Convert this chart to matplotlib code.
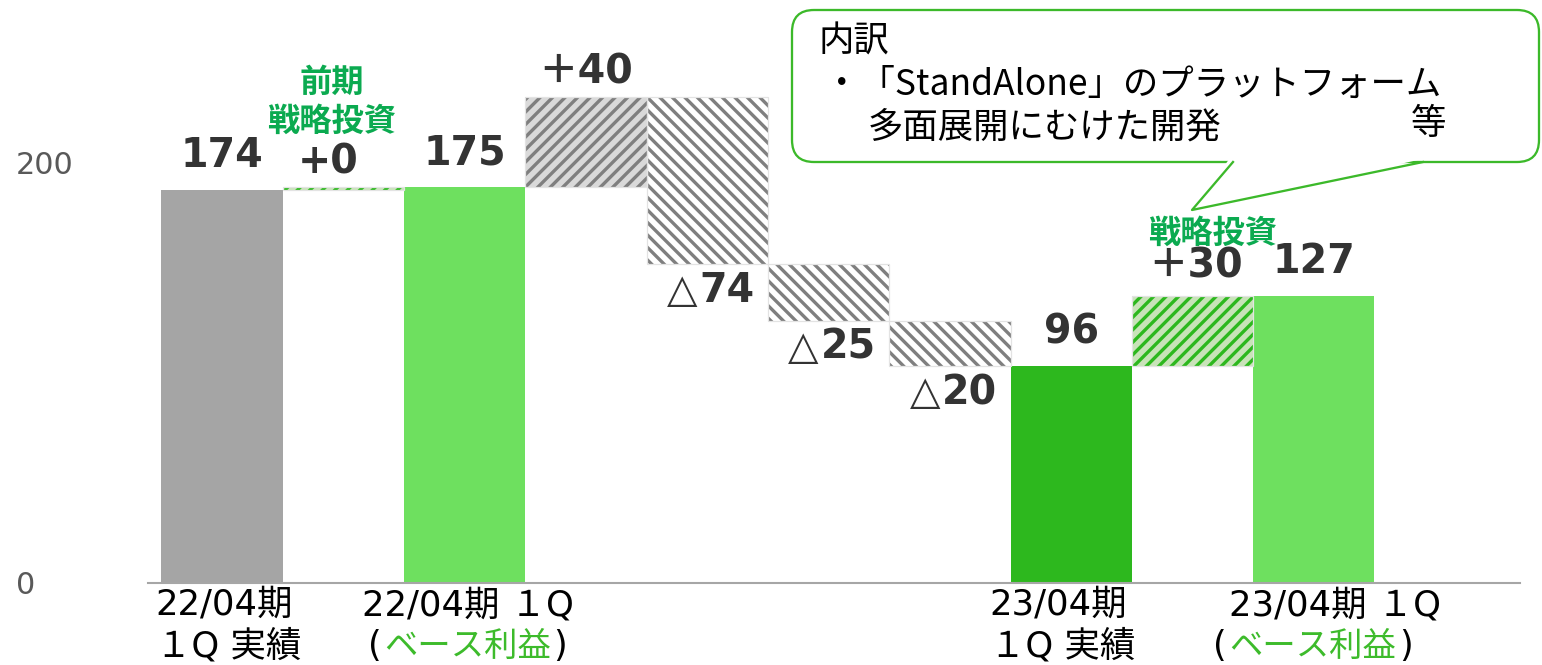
import matplotlib

matplotlib.use('Agg')

import matplotlib.pyplot as plt
from matplotlib.patches import FancyBboxPatch, Polygon
from matplotlib.lines import Line2D
from matplotlib.transforms import IdentityTransform

# ---- data ----
prev_actual = 174        # 22/04期 1Q 実績
prev_strategic = 0       # 前期 戦略投資
prev_base = 175          # 22/04期 1Q (ベース利益)
change_values = [40, -74, -25, -20]
cur_actual = 96          # 23/04期 1Q 実績
cur_strategic = 30       # 戦略投資
cur_base = 127           # 23/04期 1Q (ベース利益)

period_line1 = ['22/04期', '22/04期 １Q', '23/04期', '23/04期 １Q']
period_line2 = ['１Q 実績', 'ベース利益', '１Q 実績', 'ベース利益']
period_is_base = [False, True, False, True]
ytick_labels = ['0', '200']

callout_lines = ['内訳', '・「StandAlone」のプラットフォーム', '多面展開にむけた開発']

# ---- styling ----
DPI = 150
W, H = 1542, 665
PT = 72.0 / DPI  # points per pixel

C_GRAY = '#A5A5A5'
C_LIGHT = '#6EE05F'
C_DARK = '#2DB81E'
C_TEXT = '#333333'
C_GREEN_TXT = '#0BAA50'
C_BASE_TXT = '#3DBB2B'
C_HATCH_GRAY = '#7F7F7F'
C_CALLOUT = '#3CB92A'

LATIN = ['DejaVu Sans', 'Noto Sans CJK JP']
CJK = ['Noto Sans CJK JP', 'DejaVu Sans']

plt.rcParams['hatch.linewidth'] = 1.6

# ---- build the waterfall segments ----
bars = []  # (bottom, top, kind, value)
bars.append((0, prev_actual, 'prev_actual', prev_actual))
bars.append((prev_actual, prev_base, 'strategic', prev_strategic))
bars.append((0, prev_base, 'base', prev_base))
level = prev_base
for c in change_values:
    bars.append((level, level + c, 'up' if c > 0 else 'down', c))
    level += c
bars.append((0, cur_actual, 'actual', cur_actual))
bars.append((cur_actual, cur_base, 'strategic', cur_strategic))
bars.append((0, cur_base, 'base', cur_base))

styles = {
    'prev_actual': dict(color=C_GRAY, linewidth=0),
    'base': dict(color=C_LIGHT, linewidth=0),
    'actual': dict(color=C_DARK, linewidth=0),
    'strategic': dict(facecolor='#C8E3B8', edgecolor=C_DARK, hatch='////', linewidth=0),
    'up': dict(facecolor='#D9D9D9', edgecolor=C_HATCH_GRAY, hatch='////', linewidth=0),
    'down': dict(facecolor='white', edgecolor=C_HATCH_GRAY, hatch='\\' * 4, linewidth=0),
}

fig = plt.figure(figsize=(W / DPI, H / DPI), dpi=DPI)
ax = fig.add_axes([148 / W, 82 / H, (1520 - 148) / W, 565 / H])

for i, (b, t, kind, v) in enumerate(bars):
    ax.bar(i, t - b, bottom=b, width=1.0, zorder=2, **styles[kind])
    if kind in ('strategic', 'up', 'down'):
        ax.bar(i, t - b, bottom=b, width=1.0, fill=False, edgecolor='#E3E3E3',
               linewidth=0.6, zorder=3)

ax.set_xlim(-0.61, 10.70)
ax.set_ylim(0, 250)
for s in ('top', 'right', 'left'):
    ax.spines[s].set_visible(False)
ax.spines['bottom'].set_color('#A6A6A6')
ax.spines['bottom'].set_linewidth(1.0)
ax.spines['bottom'].set_zorder(4)
ax.set_xticks([])
ax.set_yticks([0, 186])
ax.set_yticklabels(ytick_labels)
ax.tick_params(axis='y', length=0, pad=132 * PT, labelsize=14.5, labelcolor='#595959')
for lab in ax.get_yticklabels():
    lab.set_horizontalalignment('left')


def put(x, y, s, dx_px, dy_px, **kw):
    ax.annotate(s, xy=(x, y), xytext=(dx_px * PT, dy_px * PT), textcoords='offset points',
                ha=kw.pop('ha', 'center'), va=kw.pop('va', 'center'),
                annotation_clip=False, **kw)


# ---- value labels ----
bold = dict(family=LATIN, fontsize=19, fontweight='bold', color=C_TEXT)
for i, (b, t, kind, v) in enumerate(bars):
    if kind in ('prev_actual', 'base', 'actual'):
        put(i, t, str(v), 0, 34, **bold)
    elif kind == 'strategic':
        if v == 0:
            put(i, t, '+0', -15, 25, **bold)
        else:
            put(i, t, '＋%d' % v, 3, 29, **bold)
    elif kind == 'up':
        put(i, t, '＋%d' % v, 0, 25, **bold)
    else:
        put(i, t, '△', -25, -27, family=LATIN, fontsize=19, color=C_TEXT)
        put(i, t, str(abs(v)), 20, -27, **bold)

# green strategic captions
green = dict(family=CJK, fontsize=15.5, fontweight='bold', color=C_GREEN_TXT)
put(1, bars[1][1], '前期', -12, 105, **green)
put(1, bars[1][1], '戦略投資', -12, 66, **green)
put(8, bars[8][1], '戦略投資', 20, 63, **green)

# ---- category labels under the axis ----
cat_pos = [0, 2, 7, 9]
shift1 = [2, 3, -13, 21]
shift2 = [7, 3, -9, -1]
lab = dict(family=LATIN, fontsize=17, color='black')
for k, x in enumerate(cat_pos):
    put(x, 0, period_line1[k], shift1[k], -22, **lab)
    if period_is_base[k]:
        put(x, 0, period_line2[k], shift2[k], -63, family=CJK, fontsize=16, color=C_BASE_TXT)
        put(x, 0, '(', shift2[k] - 86, -63, ha='right', **lab)
        put(x, 0, ')', shift2[k] + 86, -63, ha='left', **lab)
    else:
        put(x, 0, period_line2[k], shift2[k], -63, **lab)

# ---- callout bubble (pixel coordinates) ----
ident = IdentityTransform()
box = FancyBboxPatch((792, H - 162), 1539 - 792, 152,
                     boxstyle='round,pad=0,rounding_size=22',
                     transform=ident, facecolor='white', edgecolor=C_CALLOUT,
                     linewidth=1.1, zorder=5)
fig.add_artist(box)
tail = Polygon([(1230, H - 158), (1192, H - 210), (1427, H - 158)], closed=True,
               transform=ident, facecolor='white', edgecolor='none', zorder=6)
fig.add_artist(tail)
fig.add_artist(Line2D([1233, 1192, 1423], [H - 162, H - 210, H - 162], transform=ident,
                      color=C_CALLOUT, linewidth=1.1, zorder=7))

ctext = dict(family=CJK, fontsize=17, color='black', va='center', transform=ident, zorder=8)
fig.text(818, H - 42, callout_lines[0], ha='left', **ctext)
fig.text(824, H - 85, callout_lines[1], ha='left', **ctext)
fig.text(868, H - 128, callout_lines[2], ha='left', **ctext)
fig.text(1428, H - 124, '等', ha='center', **ctext)

fig.savefig('out.png', dpi=DPI, facecolor='white')
